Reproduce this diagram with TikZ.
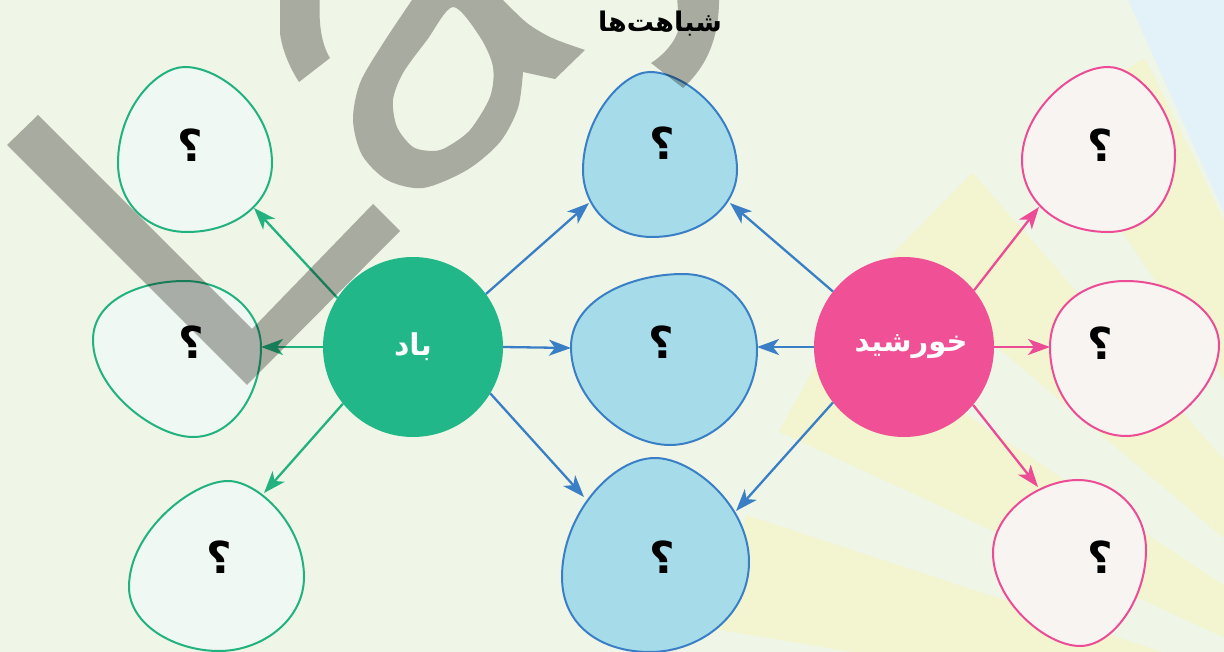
\documentclass[tikz,border=0pt]{standalone}
\usepackage{fontspec}
\usetikzlibrary{arrows.meta}
\TeXXeTstate=1
\newfontfamily\arabicfont[Script=Arabic]{DejaVu Sans}

\definecolor{paper}{RGB}{239,245,231}
\definecolor{skyback}{RGB}{227,241,248}
\definecolor{sunray}{RGB}{242,245,207}
\definecolor{stamp}{RGB}{180,179,177}
\definecolor{windgreen}{RGB}{33,183,136}
\definecolor{windline}{RGB}{34,178,128}
\definecolor{windfill}{RGB}{239,248,242}
\definecolor{sunpink}{RGB}{239,80,150}
\definecolor{sunline}{RGB}{236,76,150}
\definecolor{sunfill}{RGB}{248,244,241}
\definecolor{shareline}{RGB}{58,127,198}
\definecolor{sharefill}{RGB}{166,220,234}

\begin{document}
\begin{tikzpicture}[x=1pt,y=-1pt,
  blobline/.style={line width=2pt, line join=round},
  greenblob/.style={blobline, draw=windline, fill=windfill},
  blueblob/.style={blobline, draw=shareline, fill=sharefill},
  pinkblob/.style={blobline, draw=sunline, fill=sunfill},
  link/.style={line width=2.3pt, -{Stealth[length=22pt,width=16pt,inset=6pt]}},
  greenlink/.style={link, draw=windline, fill=windline},
  bluelink/.style={link, draw=shareline, fill=shareline},
  pinklink/.style={link, draw=sunline, fill=sunline},
  hub/.style={circle, minimum size=180pt, inner sep=0pt, text=white,
    font=\arabicfont\bfseries\fontsize{30}{32}\selectfont},
  qmark/.style={inner sep=0pt, text=black,
    font=\arabicfont\bfseries\fontsize{44}{44}\selectfont},
  heading/.style={inner sep=0pt, text=black,
    font=\arabicfont\bfseries\fontsize{27}{29}\selectfont},
  stampshape/.style={fill=stamp, blend mode=multiply}]

\useasboundingbox (0,0) rectangle (1224,652);
\fill[paper] (0,0) rectangle (1224,652);

% pale blue corner and the sunburst rays behind the diagram
\fill[skyback] (1128,0) -- (1224,0) -- (1224,213) -- cycle;
\coordinate (raycentre) at (1485,758);
\foreach \a in {115.9,131.2,146.5,161.8}
  \fill[sunray] (raycentre) -- +({-\a}:778) -- +({-\a-8.7}:778) -- cycle;

% outcome bubbles: top, right, bottom and left extremes joined by curves
\draw[greenblob] (185,67) .. controls (220,67) and (272,108) .. (272,163)
  .. controls (272,203) and (235,232) .. (187,232)
  .. controls (147,232) and (118,203) .. (118,163)
  .. controls (118,108) and (157,67) .. (185,67) -- cycle;
\draw[greenblob] (185,281) .. controls (225,281) and (261,310) .. (261,347)
  .. controls (261,395) and (232,437) .. (193,437)
  .. controls (155,437) and (93,390) .. (93,340)
  .. controls (93,300) and (140,281) .. (185,281) -- cycle;
\draw[greenblob] (228,481) .. controls (258,481) and (304,525) .. (304,577)
  .. controls (304,620) and (262,651) .. (219,651)
  .. controls (175,651) and (129,625) .. (129,587)
  .. controls (129,532) and (192,481) .. (228,481) -- cycle;
\draw[blueblob] (650,72) .. controls (685,72) and (737,115) .. (737,170)
  .. controls (737,207) and (700,237) .. (652,237)
  .. controls (612,237) and (583,207) .. (583,170)
  .. controls (583,118) and (622,72) .. (650,72) -- cycle;
\draw[blueblob] (683,274) .. controls (723,274) and (757,305) .. (757,350)
  .. controls (757,405) and (712,445) .. (670,445)
  .. controls (625,445) and (571,400) .. (571,347)
  .. controls (571,300) and (630,274) .. (683,274) -- cycle;
\draw[blueblob] (655,458) .. controls (692,458) and (749,505) .. (749,562)
  .. controls (749,615) and (700,652) .. (650,652)
  .. controls (600,652) and (562,625) .. (562,577)
  .. controls (562,515) and (612,458) .. (655,458) -- cycle;
\draw[pinkblob] (1108,67) .. controls (1137,67) and (1175,110) .. (1175,155)
  .. controls (1175,203) and (1145,232) .. (1108,232)
  .. controls (1060,232) and (1022,203) .. (1022,160)
  .. controls (1022,112) and (1072,67) .. (1108,67) -- cycle;
\draw[pinkblob] (1126,281) .. controls (1175,281) and (1219,310) .. (1219,345)
  .. controls (1219,390) and (1165,436) .. (1126,436)
  .. controls (1088,436) and (1050,400) .. (1050,347)
  .. controls (1050,305) and (1085,281) .. (1126,281) -- cycle;
\draw[pinkblob] (1078,480) .. controls (1112,480) and (1146,508) .. (1146,550)
  .. controls (1146,600) and (1112,646) .. (1080,646)
  .. controls (1045,646) and (993,600) .. (993,553)
  .. controls (993,512) and (1040,480) .. (1078,480) -- cycle;

% question marks inside the bubbles
\node[qmark] (g1q) at (190,145) {؟};
\node[qmark] (g2q) at (191,342) {؟};
\node[qmark] (g3q) at (219,557) {؟};
\node[qmark] (b1q) at (662,143) {؟};
\node[qmark] (b2q) at (661,342) {؟};
\node[qmark] (b3q) at (662,557) {؟};
\node[qmark] (p1q) at (1100,145) {؟};
\node[qmark] (p2q) at (1100,343) {؟};
\node[qmark] (p3q) at (1100,557) {؟};

% arrow targets on the bubble outlines
\coordinate (g1in) at (254,208);
\coordinate (g2in) at (261,347);
\coordinate (g3in) at (264,493);
\coordinate (b1w) at (589,203);
\coordinate (b2w) at (571,348);
\coordinate (b3w) at (584,497);
\coordinate (b1s) at (730,203);
\coordinate (b2s) at (757,347);
\coordinate (b3s) at (736,511);
\coordinate (p1in) at (1039,207);
\coordinate (p2in) at (1050,347);
\coordinate (p3in) at (1038,487);

% the two topics
\node[hub, fill=windgreen] (wind) at (413,347) {\beginR باد\endR};
\node[hub, fill=sunpink] (sun) at (904,347) {};
\node[inner sep=0pt, text=white, font=\arabicfont\bfseries\fontsize{29}{31}\selectfont] (sunlabel) at (911,347) {\beginR خورشید\endR};

% connectors
\draw[greenlink] (wind.147) -- (g1in);
\draw[greenlink] (wind.180) -- (g2in);
\draw[greenlink] (wind.219) -- (g3in);
\draw[bluelink] (wind.36) -- (b1w);
\draw[bluelink] (wind.0) -- (b2w);
\draw[bluelink] (wind.329.5) -- (b3w);
\draw[bluelink] (sun.142) -- (b1s);
\draw[bluelink] (sun.180) -- (b2s);
\draw[bluelink] (sun.218.7) -- (b3s);
\draw[pinklink] (sun.39.6) -- (p1in);
\draw[pinklink] (sun.0) -- (p2in);
\draw[pinklink] (sun.320.4) -- (p3in);

% grey stamp strokes laid over the page
\fill[stampshape] (7,145) -- (38,115) -- (252,329) -- (373,204) -- (400,231) -- (247,385) -- cycle;
\fill[stampshape] (280,-5) -- (280,33) .. controls (282,50) and (290,68) .. (299,82) -- (330,58) .. controls (322,45) and (318,25) .. (320,-5) -- cycle;
\fill[stampshape, even odd rule]
  (503,-5) -- plot[smooth] coordinates {(503,0) (527,23) (552,38) (585,50)} -- (555,79)
  -- plot[smooth] coordinates {(523,72) (518,108) (500,142) (467,170) (423,188) (387,180) (362,155) (353,120) (360,83) (382,45) (412,0)} -- (415,-5) -- cycle
  plot[smooth cycle] coordinates {(453,7) (480,37) (493,67) (490,97) (470,130) (447,147) (433,151) (413,147) (397,127) (393,100) (403,73) (427,40)};
\fill[stampshape] (677,-5) -- (679,27) .. controls (677,40) and (664,55) .. (651,63) -- (683,88) .. controls (705,68) and (720,40) .. (719,-5) -- cycle;

% title
\node[heading] (title) at (660,24) {\beginR شباهت‌ها\endR};
\end{tikzpicture}
\end{document}
